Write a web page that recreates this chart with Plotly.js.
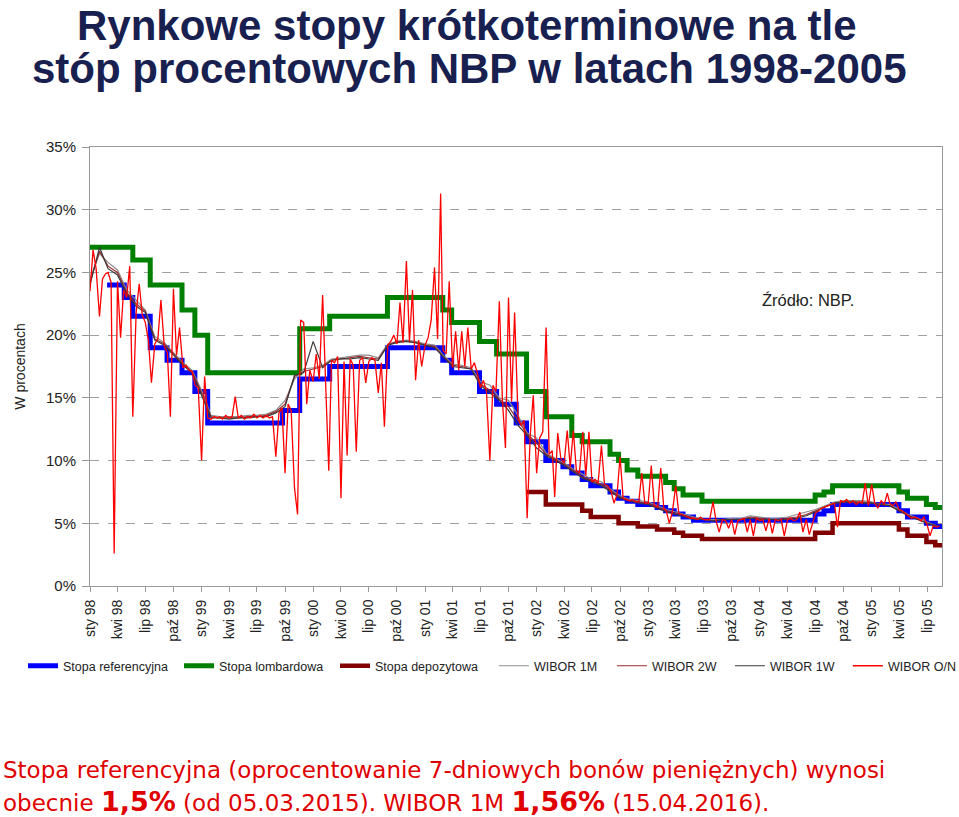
<!DOCTYPE html>
<html>
<head>
<meta charset="utf-8">
<script src="https://cdn.plot.ly/plotly-3.0.1.min.js"></script>
<style>html,body{margin:0;padding:0;background:#fff;}</style>
</head>
<body>
<div id="chart" style="width:959px;height:817px;"></div>
<script>
// ---- NBP policy rates (step series: date of change, new level) ----
var endDate = '2005-08-19';
var refDates = ['1998-02-26','1998-04-23','1998-05-21','1998-07-17','1998-09-10','1998-10-29','1998-12-10','1999-01-21','1999-09-23','1999-11-18','2000-02-24','2000-08-31','2001-02-28','2001-03-29','2001-06-28','2001-08-23','2001-10-26','2001-11-29','2002-01-31','2002-03-28','2002-04-26','2002-05-30','2002-06-27','2002-08-29','2002-09-26','2002-10-24','2002-11-28','2003-01-30','2003-02-27','2003-03-27','2003-04-25','2003-05-29','2004-06-30','2004-07-29','2004-08-26','2005-03-31','2005-04-28','2005-06-29','2005-07-28'];
var refVals = [24,23,21.5,19,18,17,15.5,13,14,16.5,17.5,19,18,17,15.5,14.5,13,11.5,10,9.5,9,8.5,8,7.5,7,6.75,6.5,6.25,6,5.75,5.5,5.25,5.75,6,6.5,6,5.5,5,4.75];

var lomDates = ['1998-01-01','1998-05-21','1998-07-17','1998-10-29','1998-12-10','1999-01-21','1999-11-18','2000-02-24','2000-08-31','2001-02-28','2001-03-29','2001-06-28','2001-08-23','2001-11-29','2002-01-31','2002-04-26','2002-05-30','2002-08-29','2002-09-26','2002-10-24','2002-11-28','2003-02-27','2003-03-27','2003-04-25','2003-06-26','2004-06-30','2004-07-29','2004-08-26','2005-03-31','2005-04-28','2005-06-29','2005-07-28'];
var lomVals = [27,26,24,22,20,17,20.5,21.5,23,22,21,19.5,18.5,15.5,13.5,12,11.5,10.5,10,9.25,8.75,8.25,7.75,7.25,6.75,7.25,7.5,8,7.5,7,6.5,6.25];

var depDates = ['2001-11-29','2002-01-31','2002-05-30','2002-06-27','2002-09-26','2002-11-28','2003-01-30','2003-03-27','2003-04-25','2003-06-26','2004-06-30','2004-08-26','2005-03-31','2005-04-28','2005-06-29','2005-07-28'];
var depVals = [7.5,6.5,6,5.5,5,4.75,4.5,4.25,4,3.75,4.25,5,4.5,4,3.5,3.25];

// ---- WIBOR monthly readings (1st of each month, Jan 1998 - Aug 2005) ----
var wibor1M = [24.5,26.5,25.8,25.2,23.6,22.8,22.0,19.9,19.4,18.6,17.8,17.2,
  15.6,13.6,13.5,13.5,13.5,13.6,13.6,13.7,14.0,14.8,16.5,17.3,
  17.4,17.6,18.1,18.2,18.3,18.4,18.4,18.2,19.3,19.5,19.6,19.5,
  19.3,19.2,18.4,17.7,17.6,17.4,16.3,16.0,15.0,14.8,13.6,12.2,
  11.8,10.6,10.2,9.8,9.3,8.9,8.5,8.3,7.7,7.2,6.9,6.8,
  6.7,6.4,6.1,5.9,5.7,5.5,5.3,5.3,5.3,5.4,5.4,5.6,
  5.5,5.4,5.4,5.5,5.7,5.9,6.1,6.4,6.7,6.8,6.8,6.8,
  6.7,6.5,6.5,6.1,5.7,5.4,5.1,4.8];
var wibor2W = [24.2,26.7,25.5,25.0,23.4,22.5,21.9,19.7,19.3,18.5,17.7,17.1,
  15.4,13.5,13.4,13.4,13.4,13.5,13.5,13.6,13.9,14.5,16.7,17.1,
  17.3,17.5,18.0,18.1,18.2,18.3,18.2,18.1,19.2,19.5,19.5,19.4,
  19.2,19.1,18.3,17.6,17.5,17.3,16.1,15.6,14.9,14.3,13.2,12.1,
  11.4,10.5,10.1,9.7,9.2,8.7,8.4,8.1,7.6,7.1,6.8,6.7,
  6.6,6.3,6.0,5.8,5.6,5.4,5.3,5.2,5.3,5.3,5.3,5.5,
  5.4,5.3,5.3,5.4,5.5,5.7,6.0,6.3,6.6,6.7,6.7,6.7,
  6.6,6.5,6.4,6.0,5.6,5.3,5.0,4.8];
var wibor1W = [24.0,27.0,25.3,24.8,23.3,22.3,21.8,19.6,19.2,18.4,17.6,17.0,
  15.2,13.4,13.4,13.3,13.4,13.4,13.5,13.5,13.8,14.3,16.8,17.0,
  19.5,17.4,18.0,18.1,18.1,18.2,18.1,18.0,19.2,19.4,19.5,19.4,
  19.2,19.0,18.3,17.5,17.4,17.3,16.0,15.4,14.8,14.0,12.8,12.0,
  11.0,10.4,10.0,9.6,9.1,8.6,8.3,8.0,7.5,7.0,6.8,6.6,
  6.5,6.2,5.9,5.7,5.5,5.3,5.3,5.2,5.3,5.3,5.3,5.4,
  5.3,5.3,5.3,5.3,5.4,5.6,5.9,6.3,6.6,6.7,6.7,6.6,
  6.6,6.5,6.4,6.0,5.6,5.3,5.0,4.8];

// ---- WIBOR O/N readings (1st, 11th, 21st of each month) ----
var wiborON = [23.5,26.8,25.3, 21.5,24.5,24.9, 25.0,24.2,2.6, 24.3,19.8,23.6, 23.0,25.5,13.5, 21.8,24.1,21.6,
  21.0,19.6,16.2, 19.3,19.7,22.8, 19.1,18.6,13.5, 23.7,18.4,20.6, 17.4,17.6,17.2, 17.1,16.0,15.8,
  10.0,16.7,13.4, 13.3,13.5,13.4, 13.5,13.3,13.6, 13.4,13.5,15.1, 13.4,13.6,13.3, 13.5,13.4,13.7,
  13.4,13.6,13.4, 13.6,13.4,13.5, 10.3,13.8,14.2, 9.0,14.5,14.0, 7.8,5.7,21.2, 21.0,14.5,17.2,
  16.3,18.5,16.5, 23.2,16.0,9.2, 18.0,17.8,18.3, 7.0,17.9,10.4, 18.1,17.6,10.7, 18.0,18.2,16.2,
  17.9,18.2,18.0, 15.4,17.8,12.7, 19.2,19.5,20.0, 19.3,22.6,19.4, 25.9,19.5,23.6, 16.4,19.6,17.5,
  19.2,19.8,21.2, 25.4,19.7,31.3, 18.8,18.5,24.3, 17.4,20.3,17.2, 20.3,17.5,20.6, 17.3,17.8,17.0,
  15.8,16.4,15.5, 10.0,16.0,15.5, 22.7,14.8,11.0, 23.0,14.7,21.8, 13.5,12.8,13.2, 5.4,12.0,15.2,
  9.0,11.8,12.3, 20.6,10.5,10.8, 7.1,12.2,10.2, 9.8,12.4,9.5, 12.4,9.2,9.0, 12.3,8.8,12.3,
  8.3,8.5,8.2, 11.2,8.1,8.0, 7.6,6.6,7.3, 10.3,7.0,6.9, 6.8,6.9,6.7, 6.7,9.0,6.6,
  6.6,9.6,6.4, 6.3,9.4,6.2, 6.0,5.0,5.9, 8.0,5.8,5.7, 5.6,5.5,5.4, 5.4,5.3,5.5,
  5.3,5.3,5.3, 6.7,5.2,4.3, 5.3,5.2,4.6, 5.3,4.1,5.2, 5.3,5.4,4.3, 5.3,4.0,5.4,
  5.2,5.3,4.4, 5.4,4.2,5.3, 5.2,5.3,4.0, 5.3,5.4,5.2, 5.3,5.9,4.3, 5.3,4.1,5.0,
  5.8,6.0,6.2, 6.3,6.4,6.5, 6.6,4.7,6.8, 6.7,6.9,6.6, 6.8,6.5,6.7, 6.6,8.2,6.4,
  8.1,6.6,6.2, 6.8,6.5,7.4, 6.6,6.4,6.7, 6.1,6.0,5.8, 5.6,5.4,5.5, 5.4,5.2,5.5,
  4.9,4.0,4.8, 4.7,4.8];

// ---- axis tick labels (quarters) ----
var monthNames = ['sty','kwi','lip','paź'];
var tickYears = [1998,1999,2000,2001,2002,2003,2004,2005];

// ---- helpers ----
function pad(n){ return (n < 10 ? '0' : '') + n; }
function dateOf(m, d){ var y = 1998 + Math.floor(m / 12); var mo = m % 12 + 1; return y + '-' + pad(mo) + '-' + pad(d); }
var monthlyDates = wibor1M.map(function(_, i){ return dateOf(i, 1); });
var onDays = [1, 11, 21];
var onDates = wiborON.map(function(_, i){ return dateOf(Math.floor(i / 3), onDays[i % 3]); });
function stepX(d){ return d.concat([endDate]); }
function stepY(v){ return v.concat([v[v.length - 1]]); }

var tickvals = [], ticktext = [];
tickYears.forEach(function(y){
  for (var q = 0; q < 4; q++) {
    var mo = q * 3 + 1;
    var dt = y + '-' + pad(mo) + '-01';
    if (dt > endDate) break;
    tickvals.push(dt);
    ticktext.push(monthNames[q] + ' ' + String(y).slice(2));
  }
});

var traces = [
  {name: 'Stopa referencyjna', x: stepX(refDates), y: stepY(refVals), mode: 'lines', line: {color: '#0000FF', width: 5, shape: 'hv'}, legend: 'legend'},
  {name: 'Stopa lombardowa', x: stepX(lomDates), y: stepY(lomVals), mode: 'lines', line: {color: '#008000', width: 5, shape: 'hv'}, legend: 'legend'},
  {name: 'Stopa depozytowa', x: stepX(depDates), y: stepY(depVals), mode: 'lines', line: {color: '#800000', width: 4.5, shape: 'hv'}, legend: 'legend'},
  {name: 'WIBOR 1M', x: monthlyDates, y: wibor1M, mode: 'lines', line: {color: '#8c8c8c', width: 1.2}, legend: 'legend2'},
  {name: 'WIBOR 2W', x: monthlyDates, y: wibor2W, mode: 'lines', line: {color: '#9b2a2a', width: 1.2}, legend: 'legend2'},
  {name: 'WIBOR 1W', x: monthlyDates, y: wibor1W, mode: 'lines', line: {color: '#3a3a3a', width: 1.2}, legend: 'legend2'},
  {name: 'WIBOR O/N', x: onDates, y: wiborON, mode: 'lines', line: {color: '#FF0000', width: 1.3}, legend: 'legend2'}
];

var titleFont = {family: 'Liberation Sans, Arial, sans-serif', size: 42, color: '#18204f'};
var captionFont = {family: 'DejaVu Sans, Verdana, sans-serif', size: 23, color: '#E00000'};

var layout = {
  width: 959, height: 817,
  margin: {l: 90, r: 17, t: 147, b: 231},
  paper_bgcolor: '#ffffff', plot_bgcolor: '#ffffff',
  font: {family: 'Liberation Sans, Arial, sans-serif', color: '#222222'},
  xaxis: {
    type: 'date', range: ['1998-01-01', endDate],
    tickvals: tickvals, ticktext: ticktext, tickangle: -90,
    tickfont: {size: 14, color: '#222'}, ticklabelstandoff: 2,
    ticks: 'outside', ticklen: 5, tickcolor: '#999',
    showline: true, linecolor: '#999', linewidth: 1, mirror: true,
    showgrid: false, zeroline: false
  },
  yaxis: {
    range: [0, 35], dtick: 5, ticksuffix: '%',
    tickfont: {size: 15, color: '#222'}, ticklabelstandoff: 3,
    ticks: 'outside', ticklen: 7, tickcolor: '#999',
    showline: true, linecolor: '#999', linewidth: 1, mirror: true,
    showgrid: true, gridcolor: '#a0a0a0', griddash: 'dash', gridwidth: 1,
    zeroline: false,
    title: {text: 'W procentach', font: {size: 14, color: '#222'}, standoff: 17}
  },
  showlegend: true,
  legend: {
    orientation: 'h', xref: 'container', yref: 'container',
    x: 0.024, xanchor: 'left', y: 0.203, yanchor: 'top',
    font: {size: 12.5, color: '#222'}, bgcolor: 'rgba(0,0,0,0)',
    entrywidth: 111, entrywidthmode: 'pixels', itemwidth: 30
  },
  legend2: {
    orientation: 'h', xref: 'container', yref: 'container',
    x: 0.515, xanchor: 'left', y: 0.203, yanchor: 'top',
    font: {size: 12.5, color: '#222'}, bgcolor: 'rgba(0,0,0,0)',
    entrywidth: 73, entrywidthmode: 'pixels', itemwidth: 30
  },
  annotations: [
    {text: '<b>Rynkowe stopy krótkoterminowe na tle</b>', xref: 'paper', yref: 'paper', x: 0.443, y: 1.277,
     xanchor: 'center', yanchor: 'middle', showarrow: false, font: titleFont},
    {text: '<b>stóp procentowych NBP w latach 1998-2005</b>', xref: 'paper', yref: 'paper', x: 0.446, y: 1.179,
     xanchor: 'center', yanchor: 'middle', showarrow: false, font: titleFont},
    {text: 'Źródło: NBP.', xref: 'paper', yref: 'paper', x: 0.786, y: 0.652, xanchor: 'left', yanchor: 'middle',
     showarrow: false, font: {size: 16.5, color: '#222'}},
    {text: 'Stopa referencyjna (oprocentowanie 7-dniowych bonów pieniężnych) wynosi', xref: 'paper', yref: 'paper',
     x: -0.104, y: -0.419, xanchor: 'left', yanchor: 'middle', showarrow: false, font: captionFont},
    {text: 'obecnie <b><span style="font-size:27px">1,5%</span></b> (od 05.03.2015). WIBOR 1M <b><span style="font-size:27px">1,56%</span></b> (15.04.2016).', xref: 'paper', yref: 'paper',
     x: -0.104, y: -0.492, xanchor: 'left', yanchor: 'middle', showarrow: false, font: captionFont}
  ]
};

Plotly.newPlot('chart', traces, layout, {displayModeBar: false, staticPlot: true});
</script>
</body>
</html>
